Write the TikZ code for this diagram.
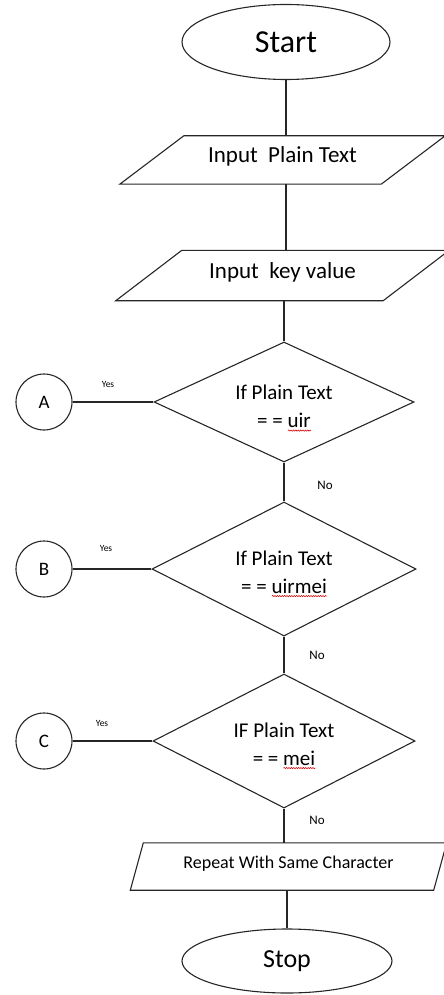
\documentclass[tikz,border=0pt]{standalone}
\usepackage{fontspec}
\setmainfont{Carlito}
\usetikzlibrary{shapes.geometric,decorations.pathmorphing}

% word with a red wavy underline
\newlength\spellwd
\newcommand\spellchk[1]{\settowidth\spellwd{#1}\leavevmode
  \rlap{\raisebox{-3pt}{\tikz[baseline=0pt]{%
    \draw[red!85!black, line width=0.55pt, decorate,
          decoration={snake, amplitude=0.6pt, segment length=2.4pt}]
      (0pt,0pt) -- (\spellwd,0pt);}}}#1}

% slanted input/output outline around a named text node (#2 = horizontal slant)
\newcommand\slantbox[2]{%
  \draw[flow] ([xshift=-#2/2]#1.south west) -- ([xshift=#2/2]#1.north west)
    -- ([xshift=#2/2]#1.north east) -- ([xshift=-#2/2]#1.south east) -- cycle;}

\begin{document}
\begin{tikzpicture}[x=1pt, y=-1pt,
  flow/.style={draw=black!85, line width=1.1pt},
  term/.style={flow, ellipse, inner sep=0pt},
  iotext/.style={rectangle, inner sep=0pt},
  decide/.style={flow, diamond, aspect=2, inner sep=0pt, align=center,
                 font=\fontsize{21}{28}\selectfont},
  conn/.style={flow, circle, minimum size=56pt, inner sep=0pt,
               font=\fontsize{19}{19}\selectfont},
  link/.style={draw=black!85, line width=1.1pt},
  yeslbl/.style={font=\fontsize{9.5}{9.5}\selectfont, inner sep=0pt},
  nolbl/.style={font=\fontsize{13}{13}\selectfont, inner sep=0pt}]

\useasboundingbox (0,0) rectangle (444,995);

% main column
\node[term, minimum width=208pt, minimum height=75pt,
      font=\fontsize{32}{32}\selectfont] (start) at (286,42) {Start};

\node[iotext, minimum width=261pt, minimum height=48pt, text height=17pt, text depth=11pt,
      font=\fontsize{23}{23}\selectfont] (inpt) at (282.5,160) {Input\ \ Plain Text};
\slantbox{inpt}{64}
\node[iotext, minimum width=267pt, minimum height=50pt, text height=17pt, text depth=12pt,
      font=\fontsize{23}{23}\selectfont] (inkey) at (282.5,275.5) {Input\ \ key value};
\slantbox{inkey}{66}

\node[decide, minimum width=260pt, minimum height=120pt] (d1) at (284,402)
  {\rule{0pt}{27pt}If Plain Text\\= = \spellchk{uir}};
\node[decide, minimum width=264pt, minimum height=134pt] (d2) at (284,569)
  {\rule{0pt}{24pt}If Plain Text\\= = \spellchk{uirmei}};
\node[decide, minimum width=262pt, minimum height=134pt] (d3) at (284,741)
  {\rule{0pt}{24pt}IF Plain Text\\= = \spellchk{mei}};

\node[iotext, minimum width=303pt, minimum height=47pt, text height=13.5pt, text depth=10pt,
      font=\fontsize{18}{18}\selectfont] (rep) at (288.5,866.5) {Repeat With Same Character};
\slantbox{rep}{13}
\node[term, minimum width=210pt, minimum height=64pt,
      font=\fontsize{26}{26}\selectfont] (stop) at (287,961) {Stop};

% connectors on the left
\node[conn] (cA) at (44,402) {A};
\node[conn] (cB) at (44,569) {B};
\node[conn] (cC) at (44,741) {C};

% branch labels
\node[yeslbl] (yA) at (108,384) {Yes};
\node[yeslbl] (yB) at (106,548) {Yes};
\node[yeslbl] (yC) at (102,723) {Yes};
\node[nolbl] (nA) at (325,485) {No};
\node[nolbl] (nB) at (317,655) {No};
\node[nolbl] (nC) at (317,820) {No};

% flow lines
\draw[link] (start) -- (start |- inpt.north);
\draw[link] (inpt.south -| start) -- (inkey.north -| start);
\draw[link] (inkey.south -| d1) -- (d1.north);
\draw[link] (d1) -- (d2);
\draw[link] (d2) -- (d3);
\draw[link] (d3.south) -- (d3.south |- rep.north);
\draw[link] (rep.south -| stop) -- (stop);

\draw[link] (cA) -- (d1);
\draw[link] (cB) -- (d2);
\draw[link] (cC) -- (d3);
\end{tikzpicture}
\end{document}
